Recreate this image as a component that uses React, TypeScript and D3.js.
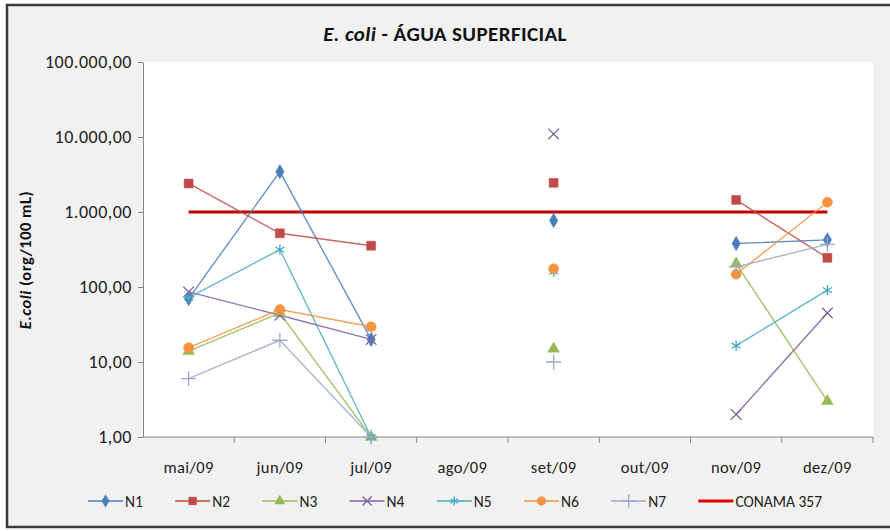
import React, { useEffect, useRef } from "react";
import * as d3 from "d3";

// months on the category axis
const months = ["mai/09", "jun/09", "jul/09", "ago/09", "set/09", "out/09", "nov/09", "dez/09"];

// E. coli (org/100 mL) per sampling point, null = no sample
const n1 = [70, 3450, 20, null, 770, null, 380, 425];
const n2 = [2400, 520, 355, null, 2450, null, 1450, 245];
const n3 = [14, 45, 1, null, 15, null, 205, 3];
const n4 = [86, 42, 20, null, 11000, null, 2, 45];
const n5 = [72, 315, 1, null, 160, null, 16.5, 91];
const n6 = [15.5, 50, 29.5, null, 175, null, 148, 1350];
const n7 = [6, 19.5, 1, null, 10, null, 185, 370];
const conama = [1000, 1000, 1000, 1000, 1000, 1000, 1000, 1000];

const yTicks = [1, 10, 100, 1000, 10000, 100000];

const FONT = "Carlito, Calibri, Lato, sans-serif";

type Serie = {
  name: string;
  values: (number | null)[];
  color: string;
  symbol: d3.SymbolType;
  size: number;
  stroke: boolean;
};

const series: Serie[] = [
  { name: "N1", values: n1, color: "#4a7ebb", symbol: d3.symbolDiamond, size: 60, stroke: false },
  { name: "N2", values: n2, color: "#be4b48", symbol: d3.symbolSquare, size: 80, stroke: false },
  { name: "N3", values: n3, color: "#98b954", symbol: d3.symbolTriangle, size: 60, stroke: false },
  { name: "N4", values: n4, color: "#7d60a0", symbol: d3.symbolX, size: 75, stroke: true },
  { name: "N5", values: n5, color: "#46aac5", symbol: d3.symbolAsterisk, size: 75, stroke: true },
  { name: "N6", values: n6, color: "#f69240", symbol: d3.symbolCircle, size: 80, stroke: false },
  { name: "N7", values: n7, color: "#9ea6cc", symbol: d3.symbolPlus, size: 75, stroke: true },
];

const App: React.FC = () => {
  const svgRef = useRef<SVGSVGElement>(null);

  useEffect(() => {
    document.body.style.margin = "0";
    const width = 890;
    const height = 531;
    const left = 143;
    const right = 873;
    const top = 62;
    const bottom = 437;

    const svg = d3.select(svgRef.current).attr("width", width).attr("height", height);
    svg.selectAll("*").remove();

    // chart area + frame (right edge runs off the picture)
    svg.append("rect").attr("x", 0).attr("y", 0).attr("width", width).attr("height", height).attr("fill", "#fff");
    svg
      .append("rect")
      .attr("x", 7)
      .attr("y", 5)
      .attr("width", 900)
      .attr("height", 522)
      .attr("fill", "#f1f1f1")
      .attr("stroke", "#3a3a3a")
      .attr("stroke-width", 2.5);

    // plot area
    svg
      .append("rect")
      .attr("x", left)
      .attr("y", top)
      .attr("width", right - left)
      .attr("height", bottom - top)
      .attr("fill", "#ffffff");

    const x = d3.scaleBand().domain(months).range([left, right]);
    const y = d3.scaleLog().domain([1, 100000]).range([bottom, top]);
    const cx = (m: string) => (x(m) as number) + x.bandwidth() / 2;

    const ptBR = d3.formatLocale({ decimal: ",", thousands: ".", grouping: [3], currency: ["R$", ""] });
    const fmt = ptBR.format(",.2f");

    // y axis
    const yAxis = svg
      .append("g")
      .attr("transform", `translate(${left},0)`)
      .call(
        d3
          .axisLeft(y)
          .tickValues(yTicks)
          .tickFormat(d => fmt(d as number))
          .tickSize(5)
          .tickSizeOuter(0)
          .tickPadding(6)
      );
    yAxis.select(".domain").attr("stroke", "#868686");
    yAxis.selectAll(".tick line").attr("stroke", "#868686");
    yAxis
      .selectAll("text")
      .attr("font-family", FONT)
      .attr("font-size", 18)
      .attr("letter-spacing", 0.5)
      .attr("fill", "#222");

    // x axis
    const xg = svg.append("g");
    xg.append("line")
      .attr("x1", left)
      .attr("x2", right)
      .attr("y1", bottom)
      .attr("y2", bottom)
      .attr("stroke", "#868686");
    xg.selectAll(".xt")
      .data(months)
      .enter()
      .append("line")
      .attr("x1", d => (x(d) as number) + x.bandwidth())
      .attr("x2", d => (x(d) as number) + x.bandwidth())
      .attr("y1", bottom)
      .attr("y2", bottom + 6)
      .attr("stroke", "#868686");
    xg.selectAll(".xl")
      .data(months)
      .enter()
      .append("text")
      .attr("x", d => cx(d))
      .attr("y", 473)
      .attr("text-anchor", "middle")
      .attr("font-family", FONT)
      .attr("font-size", 16.5)
      .attr("letter-spacing", 0.4)
      .attr("fill", "#222")
      .text(d => d);

    // CONAMA 357 limit
    const line = d3
      .line<number | null>()
      .defined(d => d != null)
      .x((_, i) => cx(months[i]))
      .y(d => y(d as number));

    svg
      .append("path")
      .attr("d", line(conama))
      .attr("fill", "none")
      .attr("stroke", "#c00000")
      .attr("stroke-width", 3);

    // series lines
    series.forEach(s => {
      svg
        .append("path")
        .attr("d", line(s.values))
        .attr("fill", "none")
        .attr("stroke", s.color)
        .attr("stroke-width", 1.4)
        .attr("opacity", 0.85);
    });

    // markers
    series.forEach(s => {
      const sym = d3.symbol().type(s.symbol).size(s.size);
      svg
        .append("g")
        .selectAll("path")
        .data(s.values.map((v, i) => ({ v, m: months[i] })).filter(d => d.v != null))
        .enter()
        .append("path")
        .attr("transform", d => `translate(${cx(d.m)},${y(d.v as number)})`)
        .attr("d", sym() as string)
        .attr("fill", s.stroke ? "none" : s.color)
        .attr("stroke", s.color)
        .attr("stroke-width", s.stroke ? 1.3 : 0.5);
    });

    // title
    const title = svg
      .append("text")
      .attr("x", 445)
      .attr("y", 41)
      .attr("text-anchor", "middle")
      .attr("font-family", FONT)
      .attr("font-size", 21)
      .attr("letter-spacing", 0.4)
      .attr("font-weight", "bold")
      .attr("fill", "#111");
    title.append("tspan").attr("font-style", "italic").text("E. coli");
    title.append("tspan").text(" - ÁGUA SUPERFICIAL");

    // y axis title
    const yt = svg
      .append("text")
      .attr("transform", "translate(31,260) rotate(-90)")
      .attr("text-anchor", "middle")
      .attr("font-family", FONT)
      .attr("font-size", 16.5)
      .attr("letter-spacing", 0.5)
      .attr("font-weight", "bold")
      .attr("fill", "#111");
    yt.append("tspan").attr("font-style", "italic").text("E.coli");
    yt.append("tspan").text(" (org/100 mL)");

    // legend
    const legendItems = [...series.map(s => s.name), "CONAMA 357"];
    const legend = svg.append("g").attr("transform", "translate(88,501)");
    const lg = legend
      .selectAll("g")
      .data(legendItems)
      .enter()
      .append("g")
      .attr("transform", (_, i) => `translate(${i * 87.2},0)`);

    lg.append("line")
      .attr("x1", 0)
      .attr("x2", 35)
      .attr("y1", 0)
      .attr("y2", 0)
      .attr("stroke", (_, i) => (i < series.length ? series[i].color : "#e00000"))
      .attr("stroke-width", (_, i) => (i < series.length ? 1.5 : 3));

    lg.filter((_, i) => i < series.length)
      .append("path")
      .attr("transform", "translate(17.5,0)")
      .attr("d", (_, i) => d3.symbol().type(series[i].symbol).size(series[i].size * 0.75)() as string)
      .attr("fill", (_, i) => (series[i].stroke ? "none" : series[i].color))
      .attr("stroke", (_, i) => series[i].color)
      .attr("stroke-width", (_, i) => (series[i].stroke ? 1.3 : 0.5));

    lg.append("text")
      .attr("x", 37)
      .attr("y", 5.5)
      .attr("font-family", FONT)
      .attr("font-size", 15.5)
      .attr("fill", "#222")
      .text(d => d);
  }, []);

  return (
    <div>
      <svg ref={svgRef} style={{ display: "block" }}></svg>
    </div>
  );
};

export default App;
